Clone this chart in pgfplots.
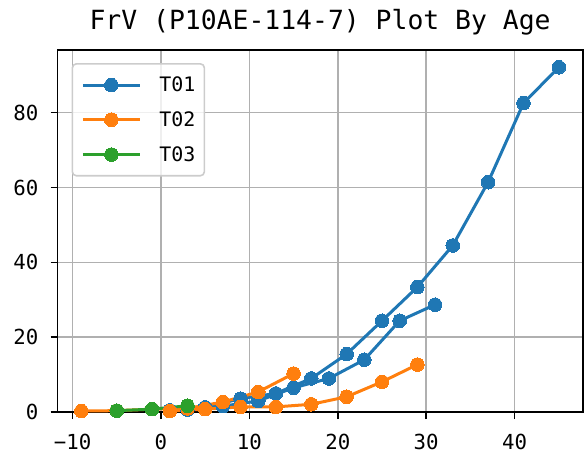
\documentclass[border=0pt]{standalone}
\usepackage{fontspec}
\setmainfont{DejaVu Sans Mono}
\usepackage{pgfplots}
\pgfplotsset{compat=1.18}
\definecolor{c1}{HTML}{1F77B4}
\definecolor{c2}{HTML}{FF7F0E}
\definecolor{c3}{HTML}{2CA02C}
\definecolor{gridgray}{HTML}{B0B0B0}
\definecolor{leggray}{HTML}{CCCCCC}
\begin{document}
\begin{tikzpicture}
\begin{axis}[
  scale only axis, width=525bp, height=362bp,
  xmin=-11.7, xmax=47.7, ymin=0, ymax=96.7,
  xtick={-10,0,10,20,30,40},
  xticklabels={−10,0,10,20,30,40},
  ytick={0,20,40,60,80},
  /pgf/number format/assume math mode=true,
  grid=major,
  major grid style={color=gridgray, line width=1.6bp},
  axis line style={line width=1.6bp},
  tick style={black, line width=1.6bp},
  tick align=outside, major tick length=7bp,
  tick pos=left,
  tick label style={font=\fontsize{20.8}{24}\selectfont},
  xticklabel style={anchor=base, inner sep=0pt, yshift=-30bp},
  yticklabel style={anchor=east, inner sep=0pt, xshift=-12bp},
  title={FrV (P10AE-114-7) Plot By Age},
  title style={font=\fontsize{26.5}{30}\selectfont, at={(0.5,1)}, anchor=base, yshift=14.6bp},
  legend style={
    at={(axis description cs:0.0267,0.964)}, anchor=north west,
    draw=leggray, line width=1.6bp, rounded corners=4bp,
    fill=white, fill opacity=0.8, text opacity=1,
    font=\fontsize{20}{24}\selectfont,
    inner xsep=9bp, inner ysep=13bp,
    row sep=18.5bp,
    nodes={inner sep=0pt},
    /tikz/every odd column/.style={column sep=18bp},
  },
  legend cell align=left,
  legend image code/.code={\draw[mark repeat=2,mark phase=2] plot coordinates {(0bp,0bp) (28.5bp,0bp) (57bp,0bp)};},
  every axis plot/.append style={line width=3bp, mark=*, mark size=6.8bp},
]
\addplot[c1, mark options={fill=c1, draw=c1, line width=0pt, fill opacity=1}] coordinates {
(31,28.7) (27,24.4) (23,14.0) (19,9.0) (15,6.5) (11,3.0) (7,1.6) (3,0.7)
(1,0.5) (5,1.3) (9,3.6) (13,5.0) (17,9.0) (21,15.5) (25,24.4) (29,33.4)
(33,44.5) (37,61.4) (41,82.5) (45,92.1)};
\addlegendentry{T01}
\addplot[c2, mark options={fill=c2, draw=c2, line width=0pt, fill opacity=1}] coordinates {
(15,10.3) (11,5.4) (7,2.7) (3,1.0) (-1,0.8) (-5,0.4) (-9,0.3)};
\addlegendentry{T02}
\addplot[c2, forget plot, mark options={fill=c2, draw=c2, line width=0pt}] coordinates {
(1,0.3) (5,0.8) (9,1.4) (13,1.4) (17,2.1) (21,4.1) (25,8.1) (29,12.7)};
\addplot[c3, mark options={fill=c3, draw=c3, line width=0pt, fill opacity=1}] coordinates {
(-5,0.4) (-1,0.8) (3,1.7)};
\addlegendentry{T03}
\end{axis}
\pgfresetboundingbox
\useasboundingbox ([shift={(-57.5bp,-44bp)}]current axis.south west) rectangle ([shift={(1.3bp,50bp)}]current axis.north east);
\end{tikzpicture}
\end{document}
